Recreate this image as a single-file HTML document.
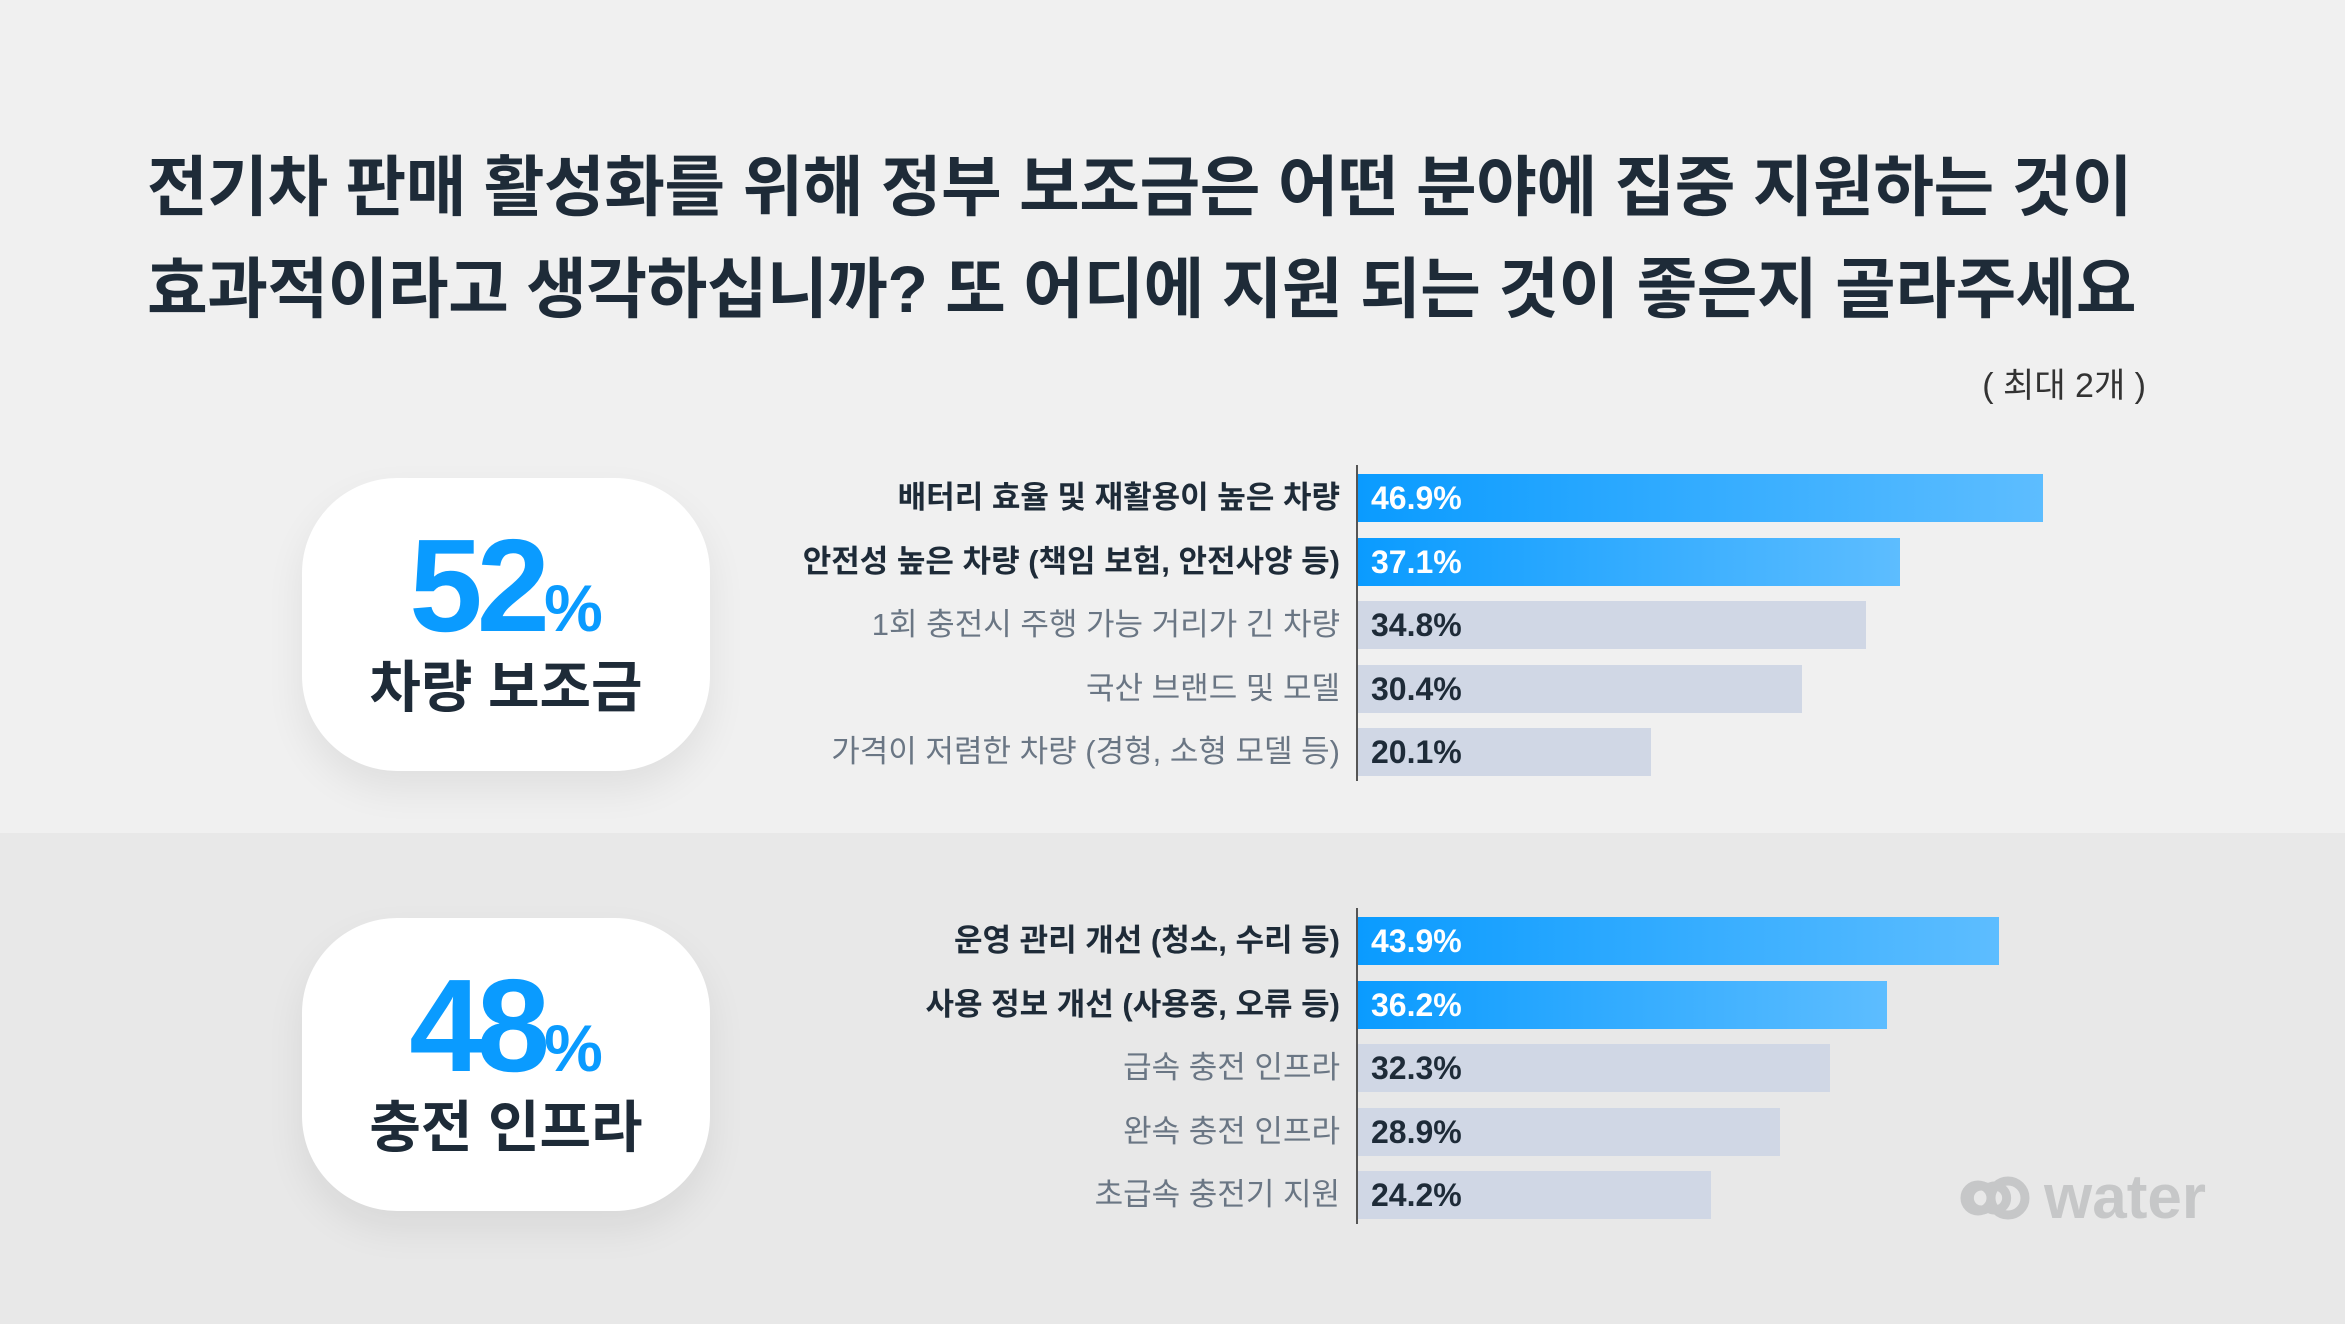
<!DOCTYPE html>
<html><head><meta charset="utf-8">
<style>
body{margin:0;width:2345px;height:1324px;position:relative;overflow:hidden;font-family:"Liberation Sans","Noto Sans CJK KR",sans-serif;background:#f0f0f0;}
.abs{position:absolute;}
#bottom-bg{left:0;top:833px;width:2345px;height:491px;background:#e8e8e8;}
.title{left:147px;font-size:66px;font-weight:bold;color:#1e2b38;letter-spacing:-0.5px;white-space:nowrap;line-height:1;}
.card{left:302px;width:408px;height:293px;background:#fff;border-radius:95px;box-shadow:0 18px 40px rgba(0,0,0,0.07);text-align:center;}
.big{position:absolute;left:0;width:100%;top:42px;font-size:132px;font-weight:bold;color:#0a9bff;letter-spacing:-6px;line-height:1;}
.big span{font-size:66px;letter-spacing:0;}
.sub{position:absolute;left:0;width:100%;top:182px;font-size:56px;font-weight:bold;color:#1e2b38;line-height:1;}
.lbl{position:absolute;right:1005px;font-size:31px;white-space:nowrap;line-height:48px;}
.val{position:absolute;font-size:32px;font-weight:bold;line-height:48px;}
.axis{position:absolute;left:1356px;width:2px;background:#555;}
</style></head><body>
<div id="bottom-bg" class="abs"></div>
<div class="abs title" style="top:154px">전기차 판매 활성화를 위해 정부 보조금은 어떤 분야에 집중 지원하는 것이</div>
<div class="abs title" style="top:256px">효과적이라고 생각하십니까? 또 어디에 지원 되는 것이 좋은지 골라주세요</div>
<div class="abs" style="right:199px;top:358px;font-size:34px;color:#333;">( 최대 2개 )</div>

<div class="abs card" style="top:478px">
<div class="big">52<span>%</span></div>
<div class="sub">차량 보조금</div></div>
<div class="abs card" style="top:918px">
<div class="big">48<span>%</span></div>
<div class="sub">충전 인프라</div></div>

<div id="chart1"></div>
<div id="chart2"></div>

<div class="abs" style="left:1958px;top:1163px;height:70px;">
<svg width="80" height="60" style="position:absolute;left:0;top:5px"><path d="M30 20a12 12 0 1 0 0 20 M30 20a12 12 0 1 1 0 20 M30 40" fill="none" stroke="#c6c7c8" stroke-width="9" stroke-linecap="round" transform="translate(0,0)"/><circle cx="20" cy="30" r="13" fill="none" stroke="#c6c7c8" stroke-width="9"/><circle cx="50" cy="30" r="17" fill="none" stroke="#c6c7c8" stroke-width="9"/></svg>
<div style="position:absolute;left:86px;top:0;font-size:62px;font-weight:bold;color:#c6c7c8;line-height:70px;">water</div></div>

<script>
const cats1=["배터리 효율 및 재활용이 높은 차량","안전성 높은 차량 (책임 보험, 안전사양 등)","1회 충전시 주행 가능 거리가 긴 차량","국산 브랜드 및 모델","가격이 저렴한 차량 (경형, 소형 모델 등)"];
const vals1=[46.9,37.1,34.8,30.4,20.1];
const cats2=["운영 관리 개선 (청소, 수리 등)","사용 정보 개선 (사용중, 오류 등)","급속 충전 인프라","완속 충전 인프라","초급속 충전기 지원"];
const vals2=[43.9,36.2,32.3,28.9,24.2];
const X0=1358, SCALE=14.6, ROW=63.5, BH=48;
function xw(v){return v*SCALE;}
function draw(id,cats,vals,top){
  const c=document.getElementById(id);
  const ax=document.createElement('div');ax.className='axis';
  ax.style.top=(top-33)+'px';ax.style.height='316px';
  
  
  c.appendChild(ax);
  cats.forEach((cat,i)=>{
    const y=top+i*ROW-BH/2, hi=i<2;
    const b=document.createElement('div');
    b.style.cssText='position:absolute;left:'+X0+'px;top:'+y+'px;height:'+BH+'px;width:'+xw(vals[i])+'px;background:'+(hi?'linear-gradient(90deg,#0a9bff,#5dbdff)':'#d0d7e5');
    
    
    c.appendChild(b);
    const l=document.createElement('div');l.className='lbl';
    l.style.top=y+'px';l.style.color=hi?'#1e2b38':'#6a7684';
    if(hi)l.style.fontWeight='bold';l.textContent=cat;
    
    
    c.appendChild(l);
    const v=document.createElement('div');v.className='val';
    v.style.left=(X0+13)+'px';v.style.top=y+'px';v.style.color=hi?'#fff':'#1e2b38';
    v.textContent=vals[i].toFixed(1)+'%';
    
    
    c.appendChild(v);
  });
}
draw('chart1',cats1,vals1,498);
draw('chart2',cats2,vals2,941);
</script>
</body></html>
